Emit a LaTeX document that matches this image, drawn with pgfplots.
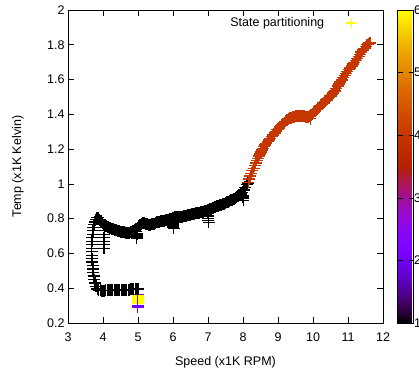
\documentclass[border=0pt]{standalone}
\usepackage{fontspec}
\setmainfont{Liberation Sans}
\usepackage{pgfplots}
\usepackage{pgfplotstable}
\pgfplotsset{compat=1.18}
\definecolor{gpyellow}{rgb}{1,1,0}

\pgfplotstableread{
x y c
4.99 0.315 6
4.99 0.322 6
4.99 0.329 6
4.99 0.336 6
4.99 0.343 6
4.99 0.350 6
4.99 0.357 6
4.99 0.365 3
4.99 0.300 2
4.99 0.294 2
4.99 0.290 2
5.00 0.395 1
4.96 0.395 1
4.92 0.394 1
4.88 0.394 1
4.84 0.393 1
4.80 0.393 1
4.76 0.392 1
4.72 0.392 1
4.68 0.391 1
4.64 0.391 1
4.60 0.390 1
4.56 0.390 1
4.52 0.390 1
4.48 0.389 1
4.44 0.389 1
4.40 0.389 1
4.36 0.388 1
4.32 0.388 1
4.28 0.388 1
4.24 0.388 1
4.20 0.387 1
4.16 0.387 1
4.12 0.387 1
4.08 0.387 1
4.04 0.386 1
4.00 0.386 1
3.96 0.386 1
3.92 0.387 1
3.88 0.390 1
3.84 0.395 1
3.80 0.410 1
3.77 0.430 1
3.75 0.450 1
3.73 0.470 1
3.72 0.490 1
3.71 0.510 1
3.70 0.530 1
3.69 0.550 1
3.685 0.570 1
3.68 0.590 1
3.68 0.610 1
3.68 0.630 1
3.68 0.650 1
3.685 0.670 1
3.69 0.690 1
3.70 0.710 1
3.71 0.730 1
3.725 0.750 1
3.74 0.765 1
3.76 0.780 1
3.79 0.795 1
3.82 0.805 1
3.86 0.805 1
3.90 0.795 1
3.94 0.785 1
3.98 0.775 1
4.02 0.765 1
4.04 0.750 1
4.04 0.730 1
4.035 0.710 1
4.03 0.690 1
4.03 0.670 1
4.03 0.650 1
4.03 0.630 1
4.06 0.760 1
4.10 0.755 1
4.14 0.750 1
4.18 0.747 1
4.22 0.745 1
4.26 0.743 1
4.30 0.740 1
4.34 0.737 1
4.38 0.733 1
4.42 0.730 1
4.46 0.727 1
4.50 0.725 1
4.54 0.723 1
4.58 0.722 1
4.62 0.721 1
4.66 0.720 1
4.70 0.720 1
4.74 0.720 1
4.78 0.722 1
4.82 0.725 1
4.86 0.728 1
4.90 0.732 1
4.955 0.725 1
4.96 0.715 1
4.96 0.705 1
4.962 0.695 1
4.965 0.688 1
4.97 0.710 1
4.94 0.738 1
4.98 0.745 1
5.02 0.755 1
5.06 0.765 1
5.10 0.772 1
5.14 0.775 1
5.18 0.776 1
5.22 0.772 1
5.26 0.768 1
5.30 0.766 1
5.34 0.766 1
5.38 0.768 1
5.42 0.770 1
5.46 0.772 1
5.50 0.775 1
5.54 0.778 1
5.58 0.780 1
5.62 0.782 1
5.66 0.784 1
5.70 0.786 1
5.74 0.788 1
5.78 0.790 1
5.82 0.792 1
5.86 0.795 1
5.90 0.798 1
5.94 0.800 1
5.98 0.803 1
5.995 0.790 1
6.00 0.780 1
6.005 0.770 1
6.01 0.760 1
6.012 0.752 1
6.015 0.745 1
6.02 0.806 1
6.06 0.810 1
6.10 0.811 1
6.14 0.811 1
6.18 0.810 1
6.22 0.810 1
6.26 0.811 1
6.30 0.813 1
6.34 0.815 1
6.38 0.817 1
6.42 0.819 1
6.46 0.821 1
6.50 0.823 1
6.54 0.825 1
6.58 0.827 1
6.62 0.829 1
6.66 0.831 1
6.70 0.833 1
6.74 0.835 1
6.78 0.837 1
6.82 0.839 1
6.86 0.841 1
6.90 0.843 1
6.94 0.845 1
6.98 0.847 1
7.00 0.830 1
7.005 0.815 1
7.01 0.800 1
7.012 0.790 1
7.015 0.778 1
7.02 0.850 1
7.06 0.853 1
7.10 0.857 1
7.14 0.861 1
7.18 0.865 1
7.22 0.868 1
7.26 0.871 1
7.30 0.874 1
7.34 0.877 1
7.38 0.880 1
7.42 0.883 1
7.46 0.886 1
7.50 0.889 1
7.54 0.893 1
7.58 0.897 1
7.62 0.901 1
7.66 0.905 1
7.70 0.910 1
7.74 0.915 1
7.78 0.920 1
7.82 0.925 1
7.86 0.930 1
7.90 0.935 1
7.94 0.942 1
7.995 0.935 1
8.00 0.925 1
8.005 0.915 1
8.01 0.905 1
7.98 0.952 1
8.02 0.965 1
8.06 0.980 1
8.10 0.995 1
8.13 1.005 1
8.15 1.010 4
8.18 1.028 4
8.21 1.045 4
8.24 1.060 4
8.27 1.075 4
8.30 1.090 4
8.33 1.105 4
8.36 1.120 4
8.39 1.135 4
8.42 1.148 4
8.45 1.160 4
8.48 1.172 4
8.51 1.184 4
8.54 1.195 4
8.57 1.205 4
8.60 1.215 4
8.63 1.224 4
8.66 1.232 4
8.70 1.242 4
8.74 1.252 4
8.78 1.262 4
8.82 1.272 4
8.86 1.282 4
8.90 1.292 4
8.94 1.302 4
8.98 1.311 4
9.02 1.320 4
9.06 1.330 4
9.10 1.338 4
9.14 1.346 4
9.18 1.353 4
9.22 1.360 4
9.26 1.366 4
9.30 1.372 4
9.34 1.377 4
9.38 1.381 4
9.42 1.384 4
9.46 1.386 4
9.50 1.388 4
9.54 1.389 4
9.58 1.390 4
9.62 1.390 4
9.66 1.390 4
9.70 1.389 4
9.74 1.388 4
9.78 1.387 4
9.82 1.386 4
9.86 1.387 4
9.90 1.390 4
9.92 1.375 4
9.94 1.394 4
9.98 1.402 4
10.02 1.410 4
10.06 1.418 4
10.10 1.426 4
10.14 1.434 4
10.18 1.442 4
10.22 1.450 4
10.26 1.458 4
10.30 1.466 4
10.34 1.474 4
10.38 1.482 4
10.42 1.490 4
10.46 1.498 4
10.50 1.506 4
10.54 1.514 4
10.58 1.522 4
10.62 1.535 4
10.66 1.550 4
10.70 1.563 4
10.74 1.575 4
10.78 1.586 4
10.82 1.598 4
10.86 1.610 4
10.90 1.622 4
10.94 1.634 4
10.98 1.645 4
11.02 1.656 4
11.06 1.667 4
11.10 1.678 4
11.14 1.689 4
11.18 1.700 4
11.22 1.711 4
11.26 1.722 4
11.30 1.734 4
11.34 1.746 4
11.38 1.758 4
11.42 1.770 4
11.46 1.780 4
11.50 1.790 4
11.54 1.800 4
11.58 1.805 4
11.63 1.810 4
}\traj

\begin{document}
\begin{tikzpicture}
\begin{axis}[
  name=ax,
  width=315bp, height=313bp, scale only axis,
  xmin=3, xmax=12, ymin=0.2, ymax=2,
  xtick={3,4,5,6,7,8,9,10,11,12},
  ytick={0.2,0.4,0.6,0.8,1,1.2,1.4,1.6,1.8,2},
  tick align=inside, tick pos=both, major tick length=6bp,
  tick style={black, line width=0.6bp},
  axis line style={line width=0.8bp},
  font=\fontsize{12.5bp}{15bp}\selectfont,
  /pgf/number format/assume math mode=true,
  xticklabel style={yshift=-6bp},
  xlabel={Speed (x1K RPM)}, ylabel={Temp (x1K Kelvin)},
  every axis x label/.style={at={(axis description cs:0.5,0)}, anchor=center, yshift=-39bp},
  every axis y label/.style={at={(axis description cs:0,0.5)}, xshift=-50bp, rotate=90, anchor=center},
  colormap={gnu}{rgb=(0,0,0) rgb=(.224,0,.309) rgb=(.316,.001,.588) rgb=(.387,.003,.809)
    rgb=(.447,.008,.951) rgb=(.5,.016,1) rgb=(.548,.027,.951) rgb=(.592,.043,.809)
    rgb=(.632,.064,.588) rgb=(.671,.091,.309) rgb=(.707,.125,0) rgb=(.742,.166,0)
    rgb=(.775,.216,0) rgb=(.806,.275,0) rgb=(.837,.343,0) rgb=(.866,.422,0)
    rgb=(.894,.512,0) rgb=(.922,.614,0) rgb=(.949,.729,0) rgb=(.975,.857,0) rgb=(1,1,0)},
  point meta min=1, point meta max=6,
  colorbar,
  colorbar style={
    at={(parent axis.north east)}, anchor=north west, xshift=6bp,
    width=16bp, height=313bp, scale only axis,
    ytick={1,2,3,4,5,6},
    ytick pos=both, yticklabel pos=right, tick align=inside,
    major tick length=5bp, tick style={black, line width=0.6bp},
    axis line style={line width=0.8bp},
    yticklabel style={xshift=-3bp},
    font=\fontsize{12.5bp}{15bp}\selectfont,
    /pgf/number format/assume math mode=true,
  },
  legend style={draw=none, fill=none, at={(axis description cs:0.925,0.958)},
    anchor=east, column sep=20bp, font=\fontsize{12.5bp}{15bp}\selectfont},
  legend plot pos=right, legend cell align=right,
]
\addlegendimage{only marks, mark=+, mark size=5bp, draw=gpyellow, line width=1.3bp,
  mark options={draw=gpyellow, solid, line width=1.3bp}}
\addlegendentry{State partitioning}
\addplot[scatter, only marks, mark=+, mark size=6bp, line width=1.3bp,
  scatter/use mapped color={draw=mapped color, fill=mapped color},
  point meta=explicit, forget plot] table[x=x, y=y, meta=c] {\traj};
\end{axis}
\pgfresetboundingbox
\path[use as bounding box] ([xshift=-68bp,yshift=-49bp]ax.south west) rectangle ([xshift=36bp,yshift=10bp]ax.north east);
\end{tikzpicture}
\end{document}
